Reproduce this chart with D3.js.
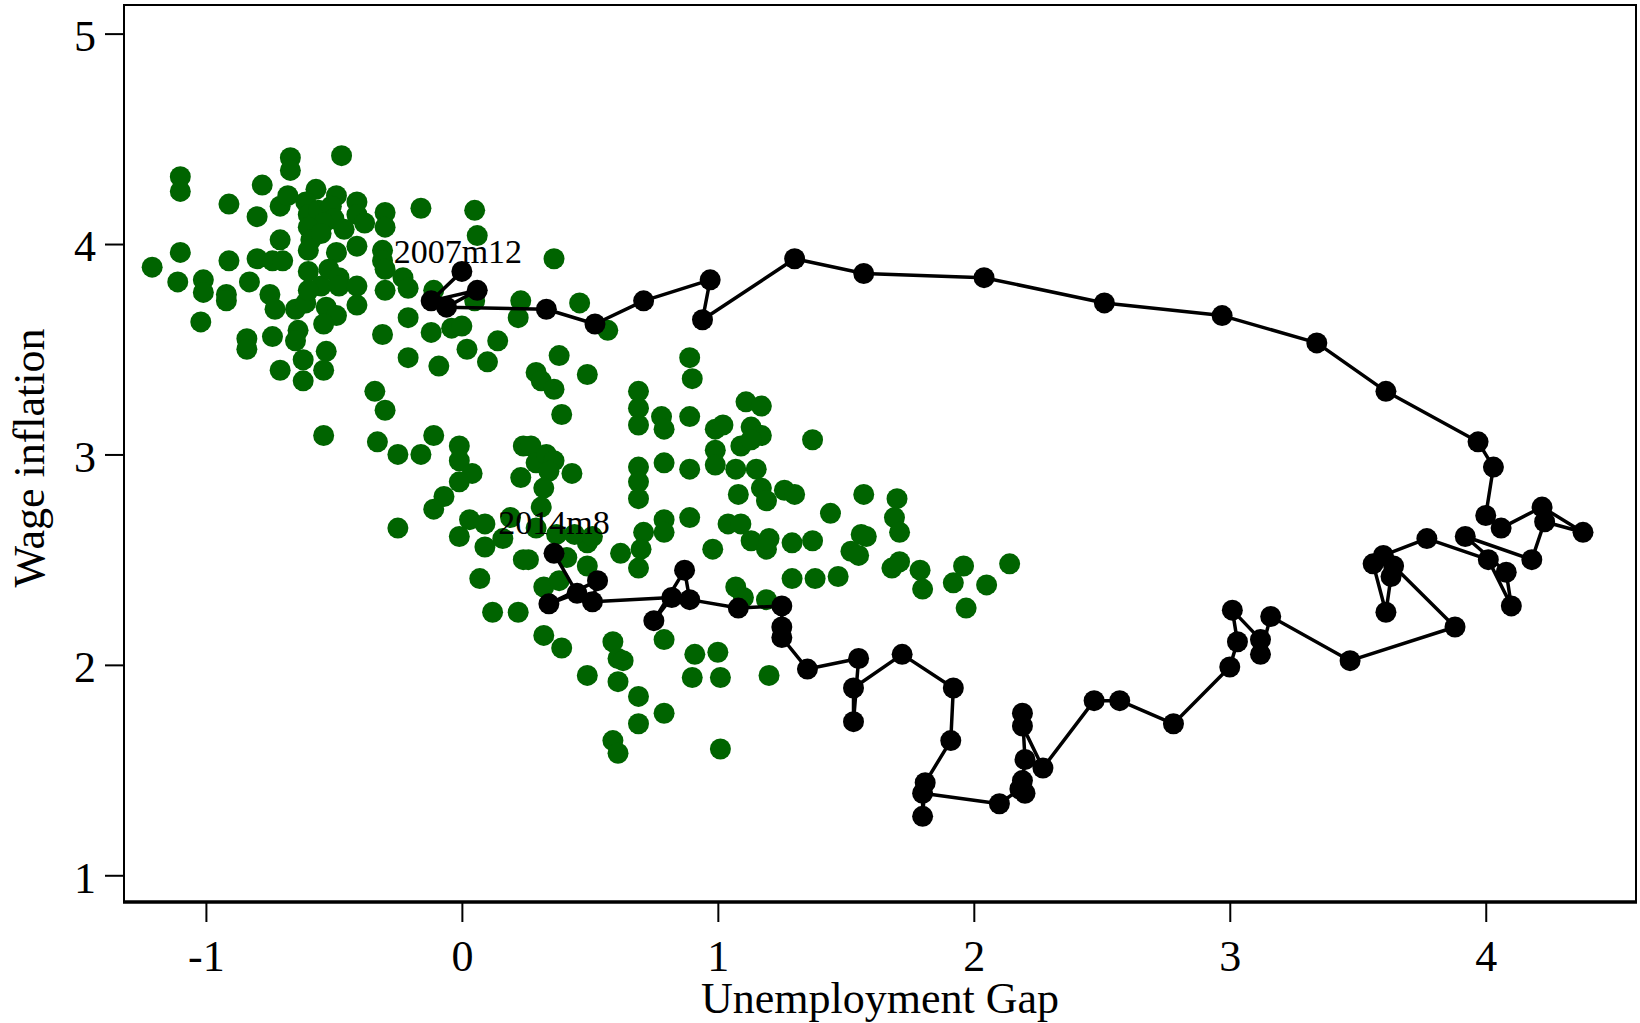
<!DOCTYPE html>
<html>
<head>
<meta charset="utf-8">
<script src="https://cdnjs.cloudflare.com/ajax/libs/d3/7.8.5/d3.min.js"></script>
<style>
	body { margin: 0; background: #fff; }
	text { font-family: "Liberation Serif", "Times New Roman", serif; }
</style>
</head>
<body>
<div id="visual"></div>
<script>

///// DATA /////

// green cloud: unemployment gap vs wage inflation (earlier period)
var gapX = [-1.10,-1.10,-0.67,-0.67,-0.47,-0.78,-0.91,-0.80,-0.71,-0.68,-0.57,-0.49,-0.41,-0.30,-0.16,0.05,0.06,
	-0.61,-0.60,-0.56,-0.51,-0.50,-0.41,-0.38,-0.30,-0.54,-0.60,-0.46,-0.59,-0.55,-0.71,-0.41,-0.60,-0.49,-0.31,-0.31,-0.30,
	-1.10,-1.21,-1.11,-1.01,-1.01,-0.91,-0.80,-0.74,-0.70,-0.83,-0.92,-0.92,-0.75,-0.73,-0.65,-0.61,-0.60,-0.55,-0.60,
	-0.52,-0.48,-0.48,-0.41,-0.41,-0.53,-0.49,-0.54,-0.30,-0.23,-0.21,-0.11,-0.21,0.05,0.23,0.22,
	-1.02,-0.84,-0.84,-0.74,-0.64,-0.65,-0.62,-0.53,-0.54,-0.71,-0.62,-0.31,-0.12,-0.04,0.00,0.02,0.14,0.10,-0.21,-0.09,
	-0.34,-0.30,-0.54,-0.33,-0.25,-0.16,-0.11,-0.01,-0.01,0.04,-0.01,-0.07,-0.11,0.24,0.23,-0.25,0.03,0.09,-0.01,0.09,
	0.16,0.19,0.24,0.07,0.12,0.22,
	0.38,0.29,0.31,0.36,0.49,0.39,0.89,0.90,0.69,0.69,0.69,0.78,0.79,0.89,1.11,1.17,0.99,1.02,1.13,1.17,0.99,0.99,
	1.09,1.13,1.07,1.15,1.17,1.19,1.26,1.30,1.08,0.89,0.79,0.69,0.69,0.69,0.89,0.79,0.79,0.71,1.04,1.09,1.13,1.20,
	1.19,1.29,0.98,1.29,1.07,1.10,1.19,0.70,0.69,0.62,0.49,0.49,0.41,0.32,0.38,0.26,0.27,0.29,0.33,0.36,0.43,0.34,
	0.32,0.31,0.29,0.37,0.44,0.51,
	0.32,0.39,0.49,0.59,0.61,0.63,0.61,0.69,0.69,0.59,0.61,0.79,0.79,0.91,1.00,0.90,1.01,1.20,1.01,
	1.37,1.57,1.70,1.44,1.69,1.71,1.37,1.56,1.58,1.52,1.55,1.68,1.71,1.79,1.80,1.96,1.92,2.05,2.14,1.97,1.38,1.47,
	0.36,0.46,0.57];

var wageY = [4.32,4.25,4.41,4.35,4.42,4.28,4.19,4.13,4.18,4.23,4.26,4.23,4.20,4.15,4.17,4.16,4.04,
	4.20,4.14,4.16,4.18,4.12,4.14,4.10,4.08,4.10,4.08,4.07,4.02,4.05,4.02,3.99,3.97,3.96,3.97,3.92,3.88,
	3.96,3.89,3.82,3.83,3.77,3.92,3.93,3.92,3.92,3.82,3.76,3.73,3.76,3.69,3.69,3.72,3.87,3.80,3.78,
	3.88,3.84,3.80,3.80,3.71,3.70,3.66,3.62,3.78,3.84,3.79,3.78,3.65,3.73,3.73,3.65,
	3.63,3.55,3.50,3.56,3.59,3.54,3.45,3.49,3.40,3.40,3.35,3.57,3.58,3.60,3.61,3.50,3.54,3.44,3.46,3.42,
	3.30,3.21,3.09,3.06,3.00,3.00,3.09,3.04,2.97,2.91,2.87,2.80,2.74,3.04,2.89,2.65,2.69,2.67,2.61,2.56,
	2.60,2.70,2.50,2.41,2.25,2.25,
	3.47,3.39,3.35,3.31,3.38,3.19,3.46,3.36,3.30,3.22,3.14,3.18,3.12,3.18,3.25,3.23,3.12,3.14,3.13,3.09,3.02,2.95,
	3.04,3.07,2.93,2.93,2.84,2.78,2.83,2.81,2.81,2.93,2.96,2.94,2.87,2.79,2.70,2.69,2.63,2.63,2.67,2.67,2.59,2.60,
	2.55,2.58,2.55,2.41,2.37,2.32,2.31,2.55,2.46,2.53,2.47,2.58,2.51,2.37,2.40,2.50,3.04,2.96,3.00,2.97,2.91,2.92,
	2.84,2.75,2.65,2.62,2.62,2.61,
	2.14,2.08,1.95,2.11,2.03,2.02,1.92,1.85,1.72,1.64,1.58,1.77,2.12,2.05,2.06,1.94,1.94,1.95,1.60,
	3.07,2.81,2.79,2.72,2.70,2.63,2.59,2.62,2.61,2.54,2.52,2.46,2.49,2.45,2.36,2.47,2.39,2.38,2.48,2.27,2.41,2.42,
	3.93,3.72,3.59];

// black path: monthly, 2007m12 to 2014m8
var pathX = [0.00,-0.12,0.06,-0.06,0.33,0.52,0.71,0.97,0.94,1.30,1.57,2.04,2.51,2.97,3.34,3.61,3.97,4.03,
	4.00,4.06,4.22,4.38,4.23,4.18,3.92,4.08,4.10,4.01,3.77,3.60,3.56,3.61,3.63,3.64,3.88,3.47,
	3.16,3.12,3.12,3.01,3.03,3.00,2.78,2.57,2.47,2.27,2.19,2.19,2.20,2.19,2.20,2.18,2.10,
	1.80,1.80,1.81,1.91,1.92,1.72,1.53,1.53,1.55,1.35,1.25,1.25,1.25,1.08,0.89,0.87,0.75,0.82,
	0.51,0.53,0.34,0.45,0.36];

var pathY = [3.87,3.73,3.78,3.70,3.69,3.62,3.73,3.83,3.64,3.93,3.86,3.84,3.72,3.66,3.53,3.30,3.06,2.94,
	2.71,2.65,2.75,2.63,2.68,2.50,2.61,2.44,2.28,2.50,2.60,2.52,2.48,2.25,2.42,2.47,2.18,2.02,
	2.23,2.05,2.12,2.26,2.11,1.99,1.72,1.83,1.83,1.51,1.71,1.77,1.55,1.45,1.39,1.41,1.34,
	1.39,1.28,1.44,1.64,1.89,2.05,1.89,1.73,2.03,1.98,2.13,2.18,2.28,2.27,2.31,2.45,2.21,2.32,
	2.30,2.40,2.29,2.34,2.53];

var pointLabels = ["2007m12", "2014m8"];
var labelAt = [0, pathX.length - 1];

var xTicks = [-1, 0, 1, 2, 3, 4];
var yTicks = [1, 2, 3, 4, 5];

///// DIMENSIONS /////

var margins = {
	left: 124,
	right: 4,
	top: 5,
	bottom: 121,
};

var width = 1640 - margins.left - margins.right,
	height = 1023 - margins.top - margins.bottom,
	radius = 10.5;

var xScale = d3.scaleLinear()
	.domain([-1.32, 4.587])
	.range([0, width]);

var yScale = d3.scaleLinear()
	.domain([0.873, 5.136])
	.range([height, 0]);

///// RENDER CHART /////

var svg = d3.select('#visual')
	.append('svg')
	.attr('width', width + margins.left + margins.right)
	.attr('height', height + margins.top + margins.bottom)
	.style('background', '#fff')
	.style('display', 'block');

var g = svg.append('g')
	.attr('transform', `translate(${margins.left},${margins.top})`);

// frame
g.append('rect')
	.attr('x', 0).attr('y', 0)
	.attr('width', width).attr('height', height)
	.style('fill', 'none')
	.style('stroke', '#000')
	.style('stroke-width', 2);

g.append('line')
	.attr('x1', -1).attr('x2', width + 1)
	.attr('y1', height).attr('y2', height)
	.style('stroke', '#000')
	.style('stroke-width', 3.5);

///// AXIS /////

var vAxis = d3.axisLeft(yScale)
	.tickValues(yTicks)
	.tickSize(19)
	.tickPadding(9)
	.tickFormat(d3.format('d'));

var vGuide = g.append('g').call(vAxis);
vGuide.select('.domain').remove();
vGuide.selectAll('line').style('stroke', '#000').style('stroke-width', 2);
vGuide.selectAll('text')
	.attr('dy', '0.38em')
	.style('font-size', '44px')
	.style('font-family', '"Liberation Serif", "Times New Roman", serif')
	.style('fill', '#000');

var hAxis = d3.axisBottom(xScale)
	.tickValues(xTicks)
	.tickSize(20)
	.tickPadding(18)
	.tickFormat(function(d) { return d < 0 ? '-' + Math.abs(d) : d; });

var hGuide = g.append('g')
	.attr('transform', `translate(0,${height})`)
	.call(hAxis);
hGuide.select('.domain').remove();
hGuide.selectAll('line').style('stroke', '#000').style('stroke-width', 2);
hGuide.selectAll('text')
	.style('font-size', '44px')
	.style('font-family', '"Liberation Serif", "Times New Roman", serif')
	.style('fill', '#000');

svg.append('text')
	.attr('x', margins.left + width / 2)
	.attr('y', 1013)
	.style('text-anchor', 'middle')
	.style('font-size', '44px')
	.text('Unemployment Gap');

svg.append('text')
	.attr('transform', 'translate(44,458) rotate(-90)')
	.style('text-anchor', 'middle')
	.style('font-size', '44px')
	.text('Wage inflation');

///// POINTS /////

g.append('g')
	.selectAll('circle')
	.data(d3.range(gapX.length)).enter().append('circle')
	.attr('cx', function(i) { return xScale(gapX[i]); })
	.attr('cy', function(i) { return yScale(wageY[i]); })
	.attr('r', radius)
	.style('fill', '#006400');

var line = d3.line()
	.x(function(i) { return xScale(pathX[i]); })
	.y(function(i) { return yScale(pathY[i]); });

g.append('path')
	.datum(d3.range(pathX.length))
	.attr('d', line)
	.style('fill', 'none')
	.style('stroke', '#000')
	.style('stroke-width', 3.5)
	.style('stroke-linejoin', 'round');

g.append('g')
	.selectAll('circle')
	.data(d3.range(pathX.length)).enter().append('circle')
	.attr('cx', function(i) { return xScale(pathX[i]); })
	.attr('cy', function(i) { return yScale(pathY[i]); })
	.attr('r', radius)
	.style('fill', '#000');

// labels sit above their points (first one nudged a bit left, as in the source)
var labelLift = [8, 19],
	labelShift = [-4, 0];
g.append('g')
	.selectAll('text')
	.data(pointLabels).enter().append('text')
	.attr('x', function(d, k) { return xScale(pathX[labelAt[k]]) + labelShift[k]; })
	.attr('y', function(d, k) { return yScale(pathY[labelAt[k]]) - labelLift[k]; })
	.style('text-anchor', 'middle')
	.style('font-size', '34px')
	.style('fill', '#000')
	.text(function(d) { return d; });

</script>
</body>
</html>
